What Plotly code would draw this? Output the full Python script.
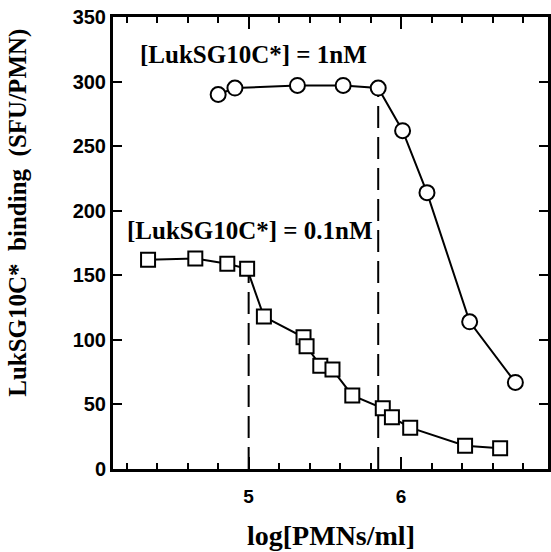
import plotly.graph_objects as go

# 1 nM series (circles)
x_1nm = [4.80, 4.91, 5.32, 5.62, 5.85, 6.01, 6.17, 6.45, 6.75]
y_1nm = [290, 295, 297, 297, 295, 262, 214, 114, 67]

# 0.1 nM series (squares)
x_01nm = [4.34, 4.65, 4.86, 4.99, 5.10, 5.36, 5.38, 5.47, 5.55, 5.68, 5.88, 5.94, 6.06, 6.42, 6.65]
y_01nm = [162, 163, 159, 155, 118, 102, 95, 80, 77, 57, 47, 40, 32, 18, 16]

# reference lines (half-saturation points)
ref_x = [5.0, 5.85]
ref_y = [155, 295]

y_ticks = [0, 50, 100, 150, 200, 250, 300, 350]
x_ticks = [5, 6]

serif = "Liberation Serif"
sans = "Liberation Sans"

fig = go.Figure()

for rx, ry in zip(ref_x, ref_y):
    fig.add_trace(go.Scatter(x=[rx, rx], y=[0, ry], mode="lines",
                             line=dict(color="black", width=2, dash="22px,9px"),
                             showlegend=False, hoverinfo="skip"))

fig.add_trace(go.Scatter(x=x_1nm, y=y_1nm, mode="lines+markers",
                         line=dict(color="black", width=2),
                         marker=dict(symbol="circle", size=15, color="white",
                                     line=dict(color="black", width=2)),
                         showlegend=False))
fig.add_trace(go.Scatter(x=x_01nm, y=y_01nm, mode="lines+markers",
                         line=dict(color="black", width=2),
                         marker=dict(symbol="square", size=14, color="white",
                                     line=dict(color="black", width=2)),
                         showlegend=False))

fig.update_layout(
    width=551, height=552,
    margin=dict(l=113, r=0, t=17, b=83),
    paper_bgcolor="white", plot_bgcolor="white",
    xaxis=dict(range=[4.11, 6.964], tickvals=x_ticks, ticktext=[str(v) for v in x_ticks],
               ticks="inside", ticklen=12, tickwidth=2, tickcolor="black",
               minor=dict(dtick=0.2, tick0=4.0, ticks="inside", ticklen=6,
                          tickwidth=2, tickcolor="black", showgrid=False),
               showline=True, linewidth=3, linecolor="black", mirror="ticks",
               showgrid=False, zeroline=False,
               tickfont=dict(family=sans, size=19, color="black", weight="bold"),
               ticklabelstandoff=8),
    yaxis=dict(range=[0, 350], tickvals=y_ticks, ticksuffix="\u00a0\u00a0",
               ticks="inside", ticklen=9, tickwidth=2, tickcolor="black",
               showline=True, linewidth=3, linecolor="black", mirror="ticks",
               showgrid=False, zeroline=False,
               tickfont=dict(family=sans, size=20, color="black", weight="bold")),
    annotations=[
        dict(x=4.274, y=321, xref="x", yref="y", xanchor="left", yanchor="middle",
             text="[LukSG10C*] = 1nM", showarrow=False,
             font=dict(family=serif, size=25, color="black", weight="bold")),
        dict(x=4.189, y=185, xref="x", yref="y", xanchor="left", yanchor="middle",
             text="[LukSG10C*] = 0.1nM", showarrow=False,
             font=dict(family=serif, size=25, color="black", weight="bold")),
        dict(x=-0.217, y=0.566, xref="paper", yref="paper", xanchor="center", yanchor="middle",
             text="LukSG10C*  binding  (SFU/PMN)", textangle=-90, showarrow=False,
             font=dict(family=serif, size=25, color="black", weight="bold")),
        dict(x=0.5, y=-0.148, xref="paper", yref="paper", xanchor="center", yanchor="middle",
             text="log[PMNs/ml]", showarrow=False,
             font=dict(family=serif, size=28, color="black", weight="bold")),
    ],
)

fig.write_html("out.html")
